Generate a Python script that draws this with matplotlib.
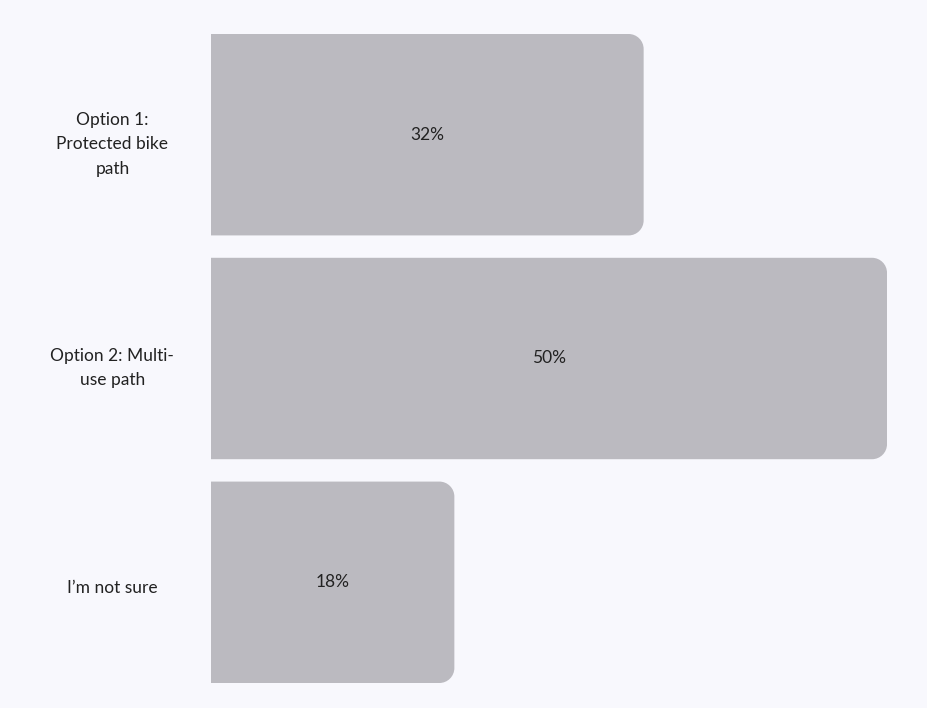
import matplotlib.pyplot as plt
import matplotlib.transforms as mtransforms
from matplotlib.path import Path
from matplotlib.patches import PathPatch

categories = ["Option 1:\nProtected bike\npath", "Option 2: Multi-\nuse path", "I\u2019m not sure"]
shares = [32, 50, 18]

BG = "#f8f8fd"
BAR = "#bbbac0"
INK = "#222222"


def rounded_right(ax, x0, x1, y0, y1, r_px):
    """Path for a bar whose right-hand corners are rounded by r_px pixels."""
    sx, sy = ax.transData.transform((1, 1)) - ax.transData.transform((0, 0))
    rx = min(r_px / abs(sx), (x1 - x0) / 2)
    ry = min(r_px / abs(sy), (y1 - y0) / 2)
    k = 0.5523
    verts = [
        (x0, y0),
        (x1 - rx, y0),
        (x1 - rx + k * rx, y0), (x1, y0 + ry - k * ry), (x1, y0 + ry),
        (x1, y1 - ry),
        (x1, y1 - ry + k * ry), (x1 - rx + k * rx, y1), (x1 - rx, y1),
        (x0, y1),
        (x0, y0),
    ]
    codes = [Path.MOVETO, Path.LINETO,
             Path.CURVE4, Path.CURVE4, Path.CURVE4,
             Path.LINETO,
             Path.CURVE4, Path.CURVE4, Path.CURVE4,
             Path.LINETO, Path.CLOSEPOLY]
    return Path(verts, codes)


plt.rcParams["font.family"] = ["Lato", "DejaVu Sans"]

fig = plt.figure(figsize=(9.27, 7.08), dpi=100, facecolor=BG)
ax = fig.add_axes([211 / 927, 1 - 683 / 708, (887 - 211) / 927, 649 / 708])
ax.set_facecolor(BG)
ax.set_xlim(0, 50)
ax.set_ylim(2.45, -0.45)

height = 0.9
bars = ax.barh(range(len(shares)), shares, height=height, color=BAR)
for bar, val in zip(bars, shares):
    x0, y0 = bar.get_x(), bar.get_y()
    w, h = bar.get_width(), bar.get_height()
    bar.set_visible(False)
    ax.add_patch(PathPatch(rounded_right(ax, x0, x0 + w, y0, y0 + h, 15),
                           facecolor=BAR, edgecolor="none"))
    ax.text(x0 + w / 2, y0 + h / 2, f"{val}%", ha="center", va="center",
            fontsize=12.5, color=INK)

ax.set_yticks(range(len(categories)))
ax.set_yticklabels(categories, ha="center", fontsize=12.5, color=INK,
                   linespacing=1.65)
ax.tick_params(axis="y", length=0, pad=71)
# nudge the category labels a few pixels below the bar centre
shift = mtransforms.ScaledTranslation(0, -4 / 100, fig.dpi_scale_trans)
for lab in ax.get_yticklabels():
    lab.set_transform(lab.get_transform() + shift)
ax.set_xticks([])
for s in ax.spines.values():
    s.set_visible(False)

fig.savefig("out.png", dpi=100, facecolor=BG)
